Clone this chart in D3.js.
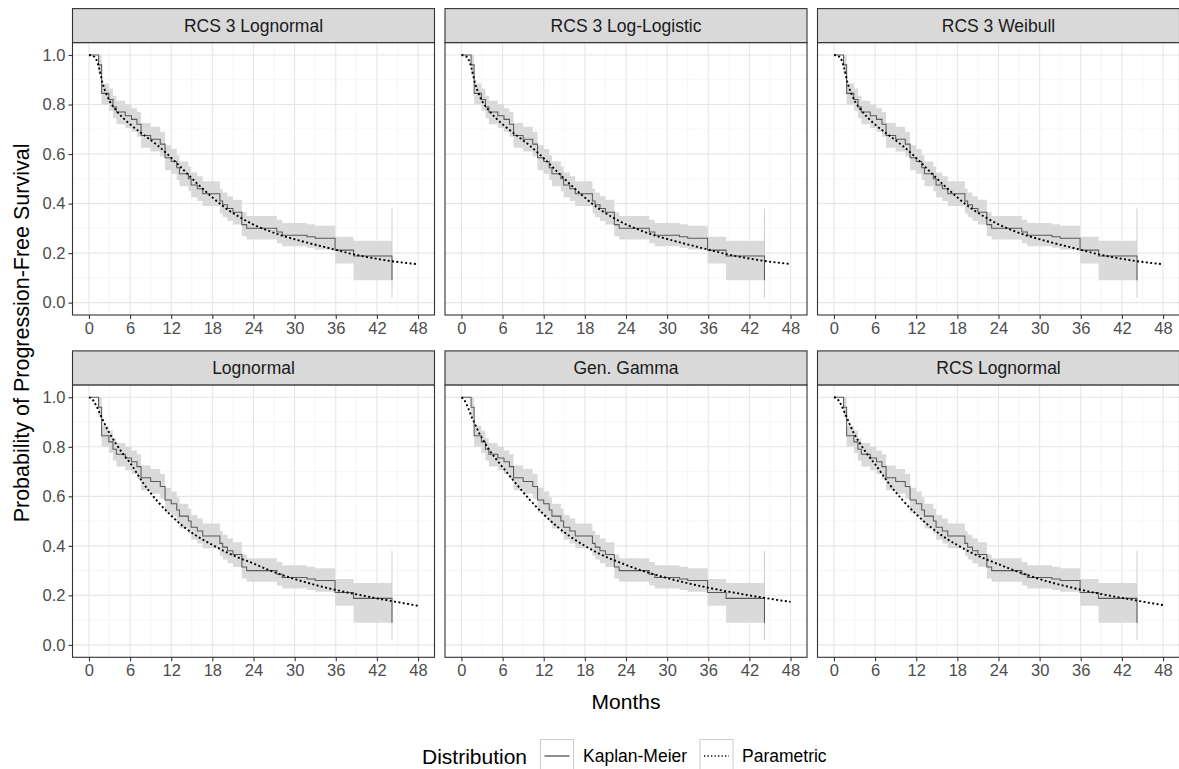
<!DOCTYPE html>
<html>
<head>
<meta charset="utf-8">
<script src="https://cdn.jsdelivr.net/npm/d3@7"></script>
<style>
  html, body { margin: 0; padding: 0; background: #ffffff; }
  svg { display: block; font-family: "Liberation Sans", Arial, sans-serif; }
</style>
</head>
<body>
<svg id="chart" width="1179" height="769"></svg>
<script>
// ---------------- DATA ----------------
const panelTitles = ["RCS 3 Lognormal", "RCS 3 Log-Logistic", "RCS 3 Weibull",
                     "Lognormal", "Gen. Gamma", "RCS Lognormal"];
const xTicks = [0, 6, 12, 18, 24, 30, 36, 42, 48];
const xMinor = [3, 9, 15, 21, 27, 33, 39, 45];
const yTicks = [0, 0.2, 0.4, 0.6, 0.8, 1.0];
const yMinor = [0.1, 0.3, 0.5, 0.7, 0.9];
const yTickLabels = ["0.0", "0.2", "0.4", "0.6", "0.8", "1.0"];

// Kaplan-Meier estimate (same data in every panel)
const kmTime  = [0, 1.4, 1.85, 2.9, 3.5, 4.0, 5.3, 6.2, 7.0, 7.6, 9.0, 10.4, 11.1, 12.0, 12.8, 13.2,
                 14.5, 14.9, 15.8, 16.6, 19.1, 19.5, 20.2, 21.0, 22.3, 23.0, 27.4, 28.2, 31.8, 33.0,
                 35.9, 38.6, 44.2];
const kmSurv  = [1.0, 0.96, 0.845, 0.82, 0.79, 0.77, 0.755, 0.74, 0.72, 0.675, 0.66, 0.64, 0.585, 0.57, 0.545, 0.52,
                 0.50, 0.475, 0.46, 0.44, 0.41, 0.395, 0.38, 0.365, 0.315, 0.30, 0.285, 0.272, 0.266, 0.26,
                 0.212, 0.188, 0.09];
const kmLower = [1.0, 0.92, 0.80, 0.775, 0.745, 0.72, 0.705, 0.69, 0.67, 0.625, 0.61, 0.59, 0.535, 0.52, 0.495, 0.47,
                 0.45, 0.425, 0.41, 0.39, 0.36, 0.345, 0.33, 0.315, 0.268, 0.255, 0.24, 0.228, 0.222, 0.215,
                 0.158, 0.09, 0.02];
const kmUpper = [1.0, 1.0, 0.885, 0.865, 0.835, 0.815, 0.80, 0.785, 0.77, 0.725, 0.71, 0.69, 0.635, 0.62, 0.595, 0.57,
                 0.55, 0.525, 0.51, 0.49, 0.46, 0.445, 0.43, 0.415, 0.365, 0.35, 0.335, 0.322, 0.316, 0.31,
                 0.266, 0.25, 0.38];

// Parametric fits, evaluated at parTime
const parTime = [0, 0.5, 1, 1.5, 2, 2.5, 3, 4, 5, 6, 8, 10, 12, 14, 16, 18, 20, 22, 24, 26, 28,
                 30, 32, 34, 36, 38, 40, 42, 44, 46, 48];
const parRcs3Lognormal   = [1.0, 0.997, 0.985, 0.945, 0.885, 0.845, 0.815, 0.775, 0.745, 0.72, 0.677, 0.635, 0.585, 0.53, 0.475, 0.425, 0.38, 0.345, 0.315, 0.292, 0.272,
                            0.256, 0.241, 0.227, 0.213, 0.199, 0.187, 0.177, 0.168, 0.161, 0.155];
const parRcs3LogLogistic = [1.0, 0.997, 0.984, 0.943, 0.884, 0.845, 0.815, 0.776, 0.746, 0.72, 0.676, 0.633, 0.583, 0.528, 0.474, 0.424, 0.38, 0.345, 0.316, 0.293, 0.273,
                            0.257, 0.242, 0.228, 0.214, 0.2, 0.188, 0.178, 0.169, 0.162, 0.156];
const parRcs3Weibull     = [1.0, 0.997, 0.986, 0.946, 0.886, 0.846, 0.816, 0.776, 0.745, 0.719, 0.676, 0.634, 0.584, 0.529, 0.475, 0.425, 0.381, 0.346, 0.316, 0.292, 0.272,
                            0.256, 0.241, 0.227, 0.213, 0.199, 0.187, 0.177, 0.168, 0.161, 0.155];
const parLognormal       = [1.0, 0.992, 0.97, 0.94, 0.91, 0.88, 0.855, 0.81, 0.77, 0.735, 0.65, 0.58, 0.522, 0.473, 0.435, 0.404, 0.375, 0.35, 0.329, 0.305, 0.284,
                            0.266, 0.25, 0.235, 0.222, 0.21, 0.199, 0.188, 0.178, 0.168, 0.158];
const parGenGamma        = [1.0, 0.985, 0.955, 0.92, 0.89, 0.86, 0.835, 0.79, 0.752, 0.718, 0.65, 0.585, 0.527, 0.477, 0.435, 0.4, 0.37, 0.345, 0.323, 0.303, 0.286,
                            0.27, 0.256, 0.243, 0.231, 0.22, 0.21, 0.2, 0.191, 0.182, 0.174];
const parRcsLognormal    = [1.0, 0.993, 0.972, 0.942, 0.91, 0.878, 0.85, 0.805, 0.765, 0.73, 0.652, 0.585, 0.528, 0.478, 0.437, 0.403, 0.373, 0.348, 0.326, 0.304, 0.284,
                            0.266, 0.25, 0.236, 0.223, 0.211, 0.2, 0.19, 0.18, 0.17, 0.161];
const parSeries = [parRcs3Lognormal, parRcs3LogLogistic, parRcs3Weibull, parLognormal, parGenGamma, parRcsLognormal];

const legendTitle = "Distribution";
const legendLabels = ["Kaplan-Meier", "Parametric"];
const xTitle = "Months";
const yTitle = "Probability of Progression-Free Survival";

// ---------------- LAYOUT ----------------
const svg = d3.select("#chart");
const panelLefts = [72.5, 445, 817.5];
const panelW = 362;
const stripTops = [8.6, 350.9];
const stripH = 34;
const panelH = 272.4;

const x = d3.scaleLinear().domain([-2.4, 50.4]).range([0, panelW]);
const y = d3.scaleLinear().domain([-0.05, 1.05]).range([panelH, 0]);

const FONT = "'Liberation Sans', Arial, sans-serif";
const kmPts = kmTime.map((t, i) => ({t, s: kmSurv[i], lo: kmLower[i], up: kmUpper[i]}));

panelTitles.forEach((title, idx) => {
  const col = idx % 3, row = Math.floor(idx / 3);
  const px = panelLefts[col], sTop = stripTops[row], pTop = sTop + stripH;
  const g = svg.append("g").attr("transform", `translate(${px},${pTop})`);

  g.append("rect").attr("width", panelW).attr("height", panelH).attr("fill", "#fff");

  // minor grid
  g.selectAll(".xm").data(xMinor).join("line").attr("class", "xm")
    .attr("x1", d => x(d)).attr("x2", d => x(d)).attr("y1", 0).attr("y2", panelH)
    .attr("stroke", "#f0f0f0").attr("stroke-width", 0.6);
  g.selectAll(".ym").data(yMinor).join("line").attr("class", "ym")
    .attr("x1", 0).attr("x2", panelW).attr("y1", d => y(d)).attr("y2", d => y(d))
    .attr("stroke", "#f0f0f0").attr("stroke-width", 0.6);
  // major grid
  g.selectAll(".xg").data(xTicks).join("line").attr("class", "xg")
    .attr("x1", d => x(d)).attr("x2", d => x(d)).attr("y1", 0).attr("y2", panelH)
    .attr("stroke", "#e6e6e6").attr("stroke-width", 1.1);
  g.selectAll(".yg").data(yTicks).join("line").attr("class", "yg")
    .attr("x1", 0).attr("x2", panelW).attr("y1", d => y(d)).attr("y2", d => y(d))
    .attr("stroke", "#e6e6e6").attr("stroke-width", 1.1);

  // CI ribbon
  const area = d3.area().curve(d3.curveStepAfter)
    .x(d => x(d.t)).y0(d => y(d.lo)).y1(d => y(d.up));
  g.append("path").datum(kmPts).attr("d", area).attr("fill", "#dadada").attr("stroke", "none");
  const last = kmPts[kmPts.length - 1];
  g.append("path").datum([{t: last.t, v: last.lo}, {t: last.t, v: last.up}])
    .attr("d", d3.line().x(d => x(d.t)).y(d => y(d.v)))
    .attr("stroke", "#cfcfcf").attr("stroke-width", 1).attr("fill", "none");

  // KM step line
  g.append("path").datum(kmPts)
    .attr("d", d3.line().curve(d3.curveStepAfter).x(d => x(d.t)).y(d => y(d.s)))
    .attr("fill", "none").attr("stroke", "#5a5a5a").attr("stroke-width", 1.05);

  // Parametric dotted curve
  const par = parTime.map((t, i) => ({t, s: parSeries[idx][i]}));
  g.append("path").datum(par)
    .attr("d", d3.line().curve(d3.curveMonotoneX).x(d => x(d.t)).y(d => y(d.s)))
    .attr("fill", "none").attr("stroke", "#000").attr("stroke-width", 1.9)
    .attr("stroke-dasharray", "2,2.4");

  // panel border
  g.append("rect").attr("width", panelW).attr("height", panelH)
    .attr("fill", "none").attr("stroke", "#333").attr("stroke-width", 1.1);

  // strip
  const s = svg.append("g").attr("transform", `translate(${px},${sTop})`);
  s.append("rect").attr("width", panelW).attr("height", stripH)
    .attr("fill", "#d9d9d9").attr("stroke", "#333").attr("stroke-width", 1.1);
  s.append("text").attr("x", panelW / 2).attr("y", stripH / 2).attr("dy", "0.36em")
    .attr("text-anchor", "middle").attr("font-size", 17.5).attr("fill", "#1a1a1a")
    .attr("font-family", FONT).text(title);

  // x axis
  const xa = g.append("g").attr("transform", `translate(0,${panelH})`)
    .call(d3.axisBottom(x).tickValues(xTicks).tickSize(4).tickPadding(3));
  xa.select(".domain").remove();
  xa.selectAll(".tick line").attr("stroke", "#333").attr("stroke-width", 1.1);
  xa.selectAll(".tick text").attr("fill", "#4d4d4d").attr("font-size", 16.5).attr("font-family", FONT);

  // y axis (left column only)
  if (col === 0) {
    const ya = g.append("g")
      .call(d3.axisLeft(y).tickValues(yTicks).tickSize(4).tickPadding(3)
        .tickFormat((d, i) => yTickLabels[i]));
    ya.select(".domain").remove();
    ya.selectAll(".tick line").attr("stroke", "#333").attr("stroke-width", 1.1);
    ya.selectAll(".tick text").attr("fill", "#4d4d4d").attr("font-size", 16.5).attr("font-family", FONT);
  }
});

// axis titles
svg.append("text").attr("x", (panelLefts[0] + panelLefts[2] + panelW) / 2).attr("y", 701).attr("dy", "0.36em")
  .attr("text-anchor", "middle").attr("font-size", 21).attr("fill", "#000").attr("font-family", FONT).text(xTitle);
svg.append("text").attr("transform", `translate(21,${(stripTops[0] + stripTops[1] + stripH + panelH) / 2}) rotate(-90)`)
  .attr("dy", "0.36em").attr("text-anchor", "middle").attr("font-size", 21.5).attr("fill", "#000")
  .attr("font-family", FONT).text(yTitle);

// legend
const lg = svg.append("g");
const legY = 756;
lg.append("text").attr("x", 422).attr("y", legY).attr("dy", "0.36em").attr("font-size", 21)
  .attr("fill", "#000").attr("font-family", FONT).text(legendTitle);
const keyX = [540.5, 700];
const labelX = [583, 742];
legendLabels.forEach((lab, i) => {
  lg.append("rect").attr("x", keyX[i]).attr("y", legY - 16.5).attr("width", 33).attr("height", 33)
    .attr("fill", "#fff").attr("stroke", "#cccccc").attr("stroke-width", 1);
  lg.append("line").attr("x1", keyX[i] + 4).attr("x2", keyX[i] + 29).attr("y1", legY).attr("y2", legY)
    .attr("stroke", i === 0 ? "#333" : "#000").attr("stroke-width", i === 0 ? 1.1 : 1.3)
    .attr("stroke-dasharray", i === 0 ? null : "1.3,2.2");
  lg.append("text").attr("x", labelX[i]).attr("y", legY).attr("dy", "0.36em").attr("font-size", 17.5)
    .attr("fill", "#000").attr("font-family", FONT).text(lab);
});
</script>
</body>
</html>
